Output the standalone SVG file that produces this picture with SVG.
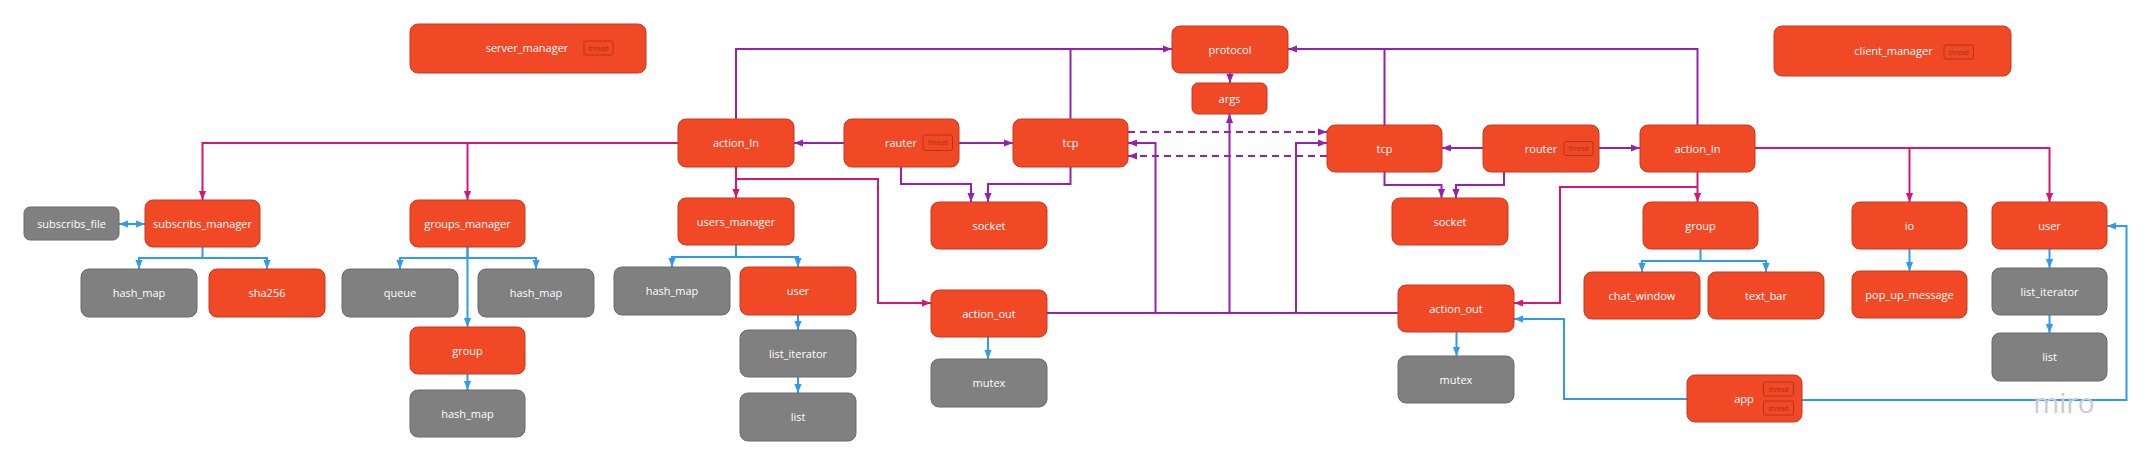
<svg xmlns="http://www.w3.org/2000/svg" width="2148" height="465" viewBox="0 0 2148 465">
<style>
.o{fill:#f14826;stroke:#c8391c;stroke-width:1}
.g{fill:#808080;stroke:#6b6b6b;stroke-width:1}
.t{font-family:"Open Sans","Liberation Sans",sans-serif;font-size:11px;fill:#ffffff;text-anchor:middle}
.b{fill:none;stroke:#a8301a;stroke-width:0.8}
.bt{font-family:"Open Sans","Liberation Sans",sans-serif;font-size:6.5px;fill:#a8301a;text-anchor:middle}
.cp{fill:none;stroke:#9321b2;stroke-width:2}
.cd{fill:none;stroke:#9321b2;stroke-width:2;stroke-dasharray:7 5}
.ck{fill:none;stroke:#d4157a;stroke-width:2}
.cb{fill:none;stroke:#2d9bf0;stroke-width:2}
</style>
<defs>
<marker id="ap" viewBox="0 0 10 10" refX="10" refY="5" markerWidth="9" markerHeight="9" markerUnits="userSpaceOnUse" orient="auto"><path d="M0,1 L10,5 L0,9 z" fill="#9321b2"/></marker>
<marker id="ak" viewBox="0 0 10 10" refX="10" refY="5" markerWidth="9" markerHeight="9" markerUnits="userSpaceOnUse" orient="auto"><path d="M0,1 L10,5 L0,9 z" fill="#d4157a"/></marker>
<marker id="ab" viewBox="0 0 10 10" refX="10" refY="5" markerWidth="9" markerHeight="9" markerUnits="userSpaceOnUse" orient="auto-start-reverse"><path d="M0,1 L10,5 L0,9 z" fill="#2d9bf0"/></marker>
</defs>
<g id="connectors">
<!-- pink server -->
<path class="ck" d="M678,143 H202.5 V200" marker-end="url(#ak)"/>
<path class="ck" d="M467.5,143 V200" marker-end="url(#ak)"/>
<path class="ck" d="M736,167 V198" marker-end="url(#ak)"/>
<path class="ck" d="M736,179 H878 V303 H931" marker-end="url(#ak)"/>
<!-- pink client -->
<path class="ck" d="M1755,148 H2049.5 V202" marker-end="url(#ak)"/>
<path class="ck" d="M1909.5,148 V202" marker-end="url(#ak)"/>
<path class="ck" d="M1697.5,172 V202" marker-end="url(#ak)"/>
<path class="ck" d="M1697.5,187 H1560 V303 H1514" marker-end="url(#ak)"/>
<!-- purple -->
<path class="cp" d="M736,119 V49 H1172" marker-end="url(#ap)"/>
<path class="cp" d="M1070.5,119 V49"/>
<path class="cp" d="M844,143 H794" marker-end="url(#ap)"/>
<path class="cp" d="M959,143 H1013" marker-end="url(#ap)"/>
<path class="cp" d="M901,167 V184 H971 V202" marker-end="url(#ap)"/>
<path class="cp" d="M1070.5,167 V184 H988 V202" marker-end="url(#ap)"/>
<path class="cd" d="M1128,132 H1327" marker-end="url(#ap)"/>
<path class="cd" d="M1327,156 H1128" marker-end="url(#ap)"/>
<path class="cp" d="M1047,313 H1398"/>
<path class="cp" d="M1155.5,313 V143 H1128" marker-end="url(#ap)"/>
<path class="cp" d="M1229.5,313 V114" marker-end="url(#ap)"/>
<path class="cp" d="M1296,313 V143 H1327" marker-end="url(#ap)"/>
<path class="cp" d="M1697.5,125 V49 H1288" marker-end="url(#ap)"/>
<path class="cp" d="M1384.5,125 V49"/>
<path class="cp" d="M1230,73 V83" marker-end="url(#ap)"/>
<path class="cp" d="M1483,148 H1442" marker-end="url(#ap)"/>
<path class="cp" d="M1599,148 H1640" marker-end="url(#ap)"/>
<path class="cp" d="M1384.5,172 V185 H1441.5 V198" marker-end="url(#ap)"/>
<path class="cp" d="M1504,172 V185 H1456 V198" marker-end="url(#ap)"/>
<!-- blue -->
<path class="cb" d="M119,224 H145" marker-start="url(#ab)" marker-end="url(#ab)"/>
<path class="cb" d="M202.5,247 V258 H139 V269" marker-end="url(#ab)"/>
<path class="cb" d="M202.5,258 H267 V269" marker-end="url(#ab)"/>
<path class="cb" d="M467.5,247 V258 H400 V269" marker-end="url(#ab)"/>
<path class="cb" d="M467.5,258 H536 V269" marker-end="url(#ab)"/>
<path class="cb" d="M467.5,247 V327" marker-end="url(#ab)"/>
<path class="cb" d="M467.5,374 V390" marker-end="url(#ab)"/>
<path class="cb" d="M736,245 V257 H672 V267" marker-end="url(#ab)"/>
<path class="cb" d="M736,257 H798 V267" marker-end="url(#ab)"/>
<path class="cb" d="M798,315 V330" marker-end="url(#ab)"/>
<path class="cb" d="M798,377 V393" marker-end="url(#ab)"/>
<path class="cb" d="M988,337 V359" marker-end="url(#ab)"/>
<path class="cb" d="M1456.5,332 V356" marker-end="url(#ab)"/>
<path class="cb" d="M1700.5,249 V261 H1642 V272" marker-end="url(#ab)"/>
<path class="cb" d="M1700.5,261 H1766 V272" marker-end="url(#ab)"/>
<path class="cb" d="M1909.5,249 V271" marker-end="url(#ab)"/>
<path class="cb" d="M2049.5,249 V268" marker-end="url(#ab)"/>
<path class="cb" d="M2049.5,315 V333" marker-end="url(#ab)"/>
<path class="cb" d="M1687,399 H1564 V319 H1514" marker-end="url(#ab)"/>
<path class="cb" d="M1802,400 H2126.5 V226 H2107" marker-end="url(#ab)"/>
</g>
<g id="server_manager"><rect class="o" x="410" y="24" width="236" height="49" rx="8"/><text class="t" x="527" y="52">server_manager</text><rect class="b" x="584" y="41" width="29" height="14" rx="2"/><text class="bt" x="598.5" y="50.5">thread</text></g>
<g id="client_manager"><rect class="o" x="1774" y="26" width="237" height="50" rx="8"/><text class="t" x="1893.5" y="55">client_manager</text><rect class="b" x="1944" y="45" width="29.5" height="14" rx="2"/><text class="bt" x="1958.75" y="54.5">thread</text></g>
<g id="protocol"><rect class="o" x="1172" y="26" width="116" height="47" rx="8"/><text class="t" x="1230" y="53.5">protocol</text></g>
<g id="args"><rect class="o" x="1192" y="83" width="75" height="31" rx="6"/><text class="t" x="1229.5" y="102.5">args</text></g>
<g id="action_in_server"><rect class="o" x="678" y="119" width="116" height="48" rx="8"/><text class="t" x="736" y="147">action_In</text></g>
<g id="rauter"><rect class="o" x="844" y="119" width="115" height="48" rx="8"/><text class="t" x="901" y="147">rauter</text><rect class="b" x="923" y="135" width="29.5" height="15.5" rx="2"/><text class="bt" x="937.75" y="145">thread</text></g>
<g id="tcp_server"><rect class="o" x="1013" y="119" width="115" height="48" rx="8"/><text class="t" x="1070.5" y="147">tcp</text></g>
<g id="tcp_client"><rect class="o" x="1327" y="125" width="115" height="47" rx="8"/><text class="t" x="1384.5" y="152.5">tcp</text></g>
<g id="router"><rect class="o" x="1483" y="125" width="116" height="47" rx="8"/><text class="t" x="1541" y="152.5">router</text><rect class="b" x="1564" y="141.5" width="29" height="14" rx="2"/><text class="bt" x="1578.5" y="151">thread</text></g>
<g id="action_in_client"><rect class="o" x="1640" y="125" width="115" height="47" rx="8"/><text class="t" x="1697.5" y="152.5">action_In</text></g>
<g id="subscribs_file"><rect class="g" x="24" y="207" width="95" height="33" rx="6"/><text class="t" x="71.5" y="227.5">subscribs_file</text></g>
<g id="subscribs_manager"><rect class="o" x="145" y="200" width="115" height="47" rx="8"/><text class="t" x="202.5" y="227.5">subscribs_manager</text></g>
<g id="groups_manager"><rect class="o" x="410" y="200" width="115" height="47" rx="8"/><text class="t" x="467.5" y="227.5">groups_manager</text></g>
<g id="users_manager"><rect class="o" x="678" y="198" width="116" height="47" rx="8"/><text class="t" x="736" y="225.5">users_manager</text></g>
<g id="socket_server"><rect class="o" x="931" y="202" width="116" height="47" rx="8"/><text class="t" x="989" y="229.5">socket</text></g>
<g id="socket_client"><rect class="o" x="1392" y="198" width="116" height="47" rx="8"/><text class="t" x="1450" y="225.5">socket</text></g>
<g id="group_client"><rect class="o" x="1643" y="202" width="115" height="47" rx="8"/><text class="t" x="1700.5" y="229.5">group</text></g>
<g id="io"><rect class="o" x="1852" y="202" width="115" height="47" rx="8"/><text class="t" x="1909.5" y="229.5">io</text></g>
<g id="user_client"><rect class="o" x="1992" y="202" width="115" height="47" rx="8"/><text class="t" x="2049.5" y="229.5">user</text></g>
<g id="hash_map_sub"><rect class="g" x="81" y="269" width="116" height="48" rx="8"/><text class="t" x="139" y="297">hash_map</text></g>
<g id="sha256"><rect class="o" x="209" y="269" width="116" height="48" rx="8"/><text class="t" x="267" y="297">sha256</text></g>
<g id="queue"><rect class="g" x="342" y="269" width="116" height="48" rx="8"/><text class="t" x="400" y="297">queue</text></g>
<g id="hash_map_groups"><rect class="g" x="478" y="269" width="116" height="48" rx="8"/><text class="t" x="536" y="297">hash_map</text></g>
<g id="hash_map_users"><rect class="g" x="614" y="267" width="116" height="48" rx="8"/><text class="t" x="672" y="295">hash_map</text></g>
<g id="user_server"><rect class="o" x="740" y="267" width="116" height="48" rx="8"/><text class="t" x="798" y="295">user</text></g>
<g id="chat_window"><rect class="o" x="1584" y="272" width="116" height="47" rx="8"/><text class="t" x="1642" y="299.5">chat_window</text></g>
<g id="text_bar"><rect class="o" x="1708" y="272" width="116" height="47" rx="8"/><text class="t" x="1766" y="299.5">text_bar</text></g>
<g id="pop_up_message"><rect class="o" x="1852" y="271" width="115" height="47" rx="8"/><text class="t" x="1909.5" y="298.5">pop_up_message</text></g>
<g id="list_iterator_client"><rect class="g" x="1992" y="268" width="115" height="47" rx="8"/><text class="t" x="2049.5" y="295.5">list_iterator</text></g>
<g id="action_out_server"><rect class="o" x="931" y="290" width="116" height="47" rx="8"/><text class="t" x="989" y="317.5">action_out</text></g>
<g id="action_out_client"><rect class="o" x="1398" y="285" width="116" height="47" rx="8"/><text class="t" x="1456" y="312.5">action_out</text></g>
<g id="group_server"><rect class="o" x="410" y="327" width="115" height="47" rx="8"/><text class="t" x="467.5" y="354.5">group</text></g>
<g id="list_iterator_server"><rect class="g" x="740" y="330" width="116" height="47" rx="8"/><text class="t" x="798" y="357.5">list_iterator</text></g>
<g id="list_client"><rect class="g" x="1992" y="333" width="115" height="48" rx="8"/><text class="t" x="2049.5" y="361">list</text></g>
<g id="mutex_client"><rect class="g" x="1398" y="356" width="116" height="47" rx="8"/><text class="t" x="1456" y="383.5">mutex</text></g>
<g id="mutex_server"><rect class="g" x="931" y="359" width="116" height="48" rx="8"/><text class="t" x="989" y="387">mutex</text></g>
<g id="app"><rect class="o" x="1687" y="375" width="115" height="47" rx="8"/><text class="t" x="1744" y="402.5">app</text><rect class="b" x="1763.5" y="382" width="30" height="14" rx="2"/><text class="bt" x="1778.5" y="391.5">thread</text><rect class="b" x="1763.5" y="401" width="30" height="14" rx="2"/><text class="bt" x="1778.5" y="410.5">thread</text></g>
<g id="hash_map_group"><rect class="g" x="410" y="390" width="115" height="47" rx="8"/><text class="t" x="467.5" y="417.5">hash_map</text></g>
<g id="list_server"><rect class="g" x="740" y="393" width="116" height="48" rx="8"/><text class="t" x="798" y="421">list</text></g>
<text x="2064" y="413" font-family="Open Sans, Liberation Sans, sans-serif" font-size="28" fill="#c9c9da" text-anchor="middle">miro</text>
</svg>
